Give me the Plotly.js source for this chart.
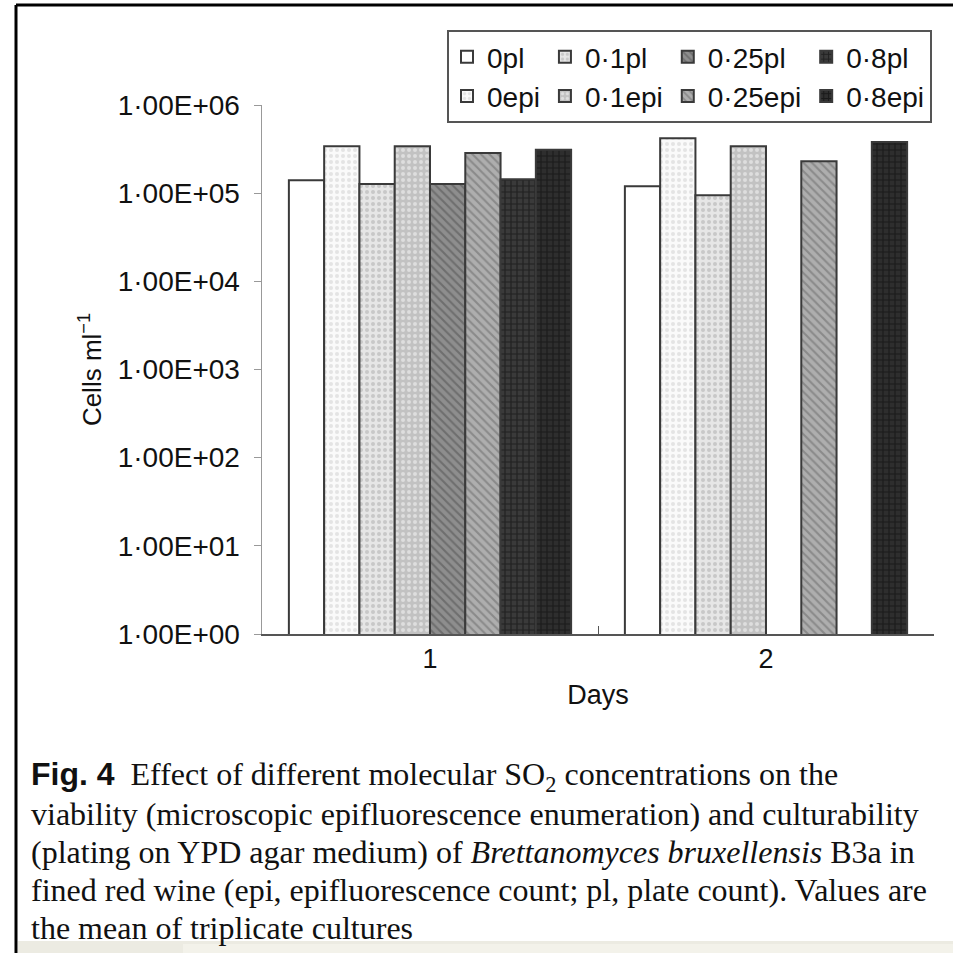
<!DOCTYPE html>
<html>
<head>
<meta charset="utf-8">
<script src="https://cdn.plot.ly/plotly-3.0.1.min.js"></script>
<style>html,body{margin:0;padding:0;background:#fff;}#chart{width:953px;height:953px;}</style>
</head>
<body>
<div id="chart"></div>
<script>
// ---- data ----
var days = ['1', '2'];
var seriesNames = ['0pl', '0epi', '0·1pl', '0·1epi', '0·25pl', '0·25epi', '0·8pl', '0·8epi'];
var v0pl    = [1.40e5, 1.20e5];
var v0epi   = [3.40e5, 4.20e5];
var v01pl   = [1.27e5, 0.95e5];
var v01epi  = [3.40e5, 3.40e5];
var v025pl  = [1.27e5, null];
var v025epi = [2.85e5, 2.30e5];
var v08pl   = [1.44e5, null];
var v08epi  = [3.10e5, 3.80e5];
var yTickVals = [1, 10, 100, 1000, 10000, 100000, 1000000];
var yTickText = ['1·00E+00', '1·00E+01', '1·00E+02', '1·00E+03', '1·00E+04', '1·00E+05', '1·00E+06'];
var groups = ['g0', 'g0', 'g01', 'g01', 'g025', 'g025', 'g08', 'g08'];

// ---- styles ----
var values = [v0pl, v0epi, v01pl, v01epi, v025pl, v025epi, v08pl, v08epi];
var styles = [
  {bg: '#ffffff', fg: '#ffffff', shape: ''},
  {bg: '#fafafa', fg: '#e4e4e4', shape: '.'},
  {bg: '#e6e6e6', fg: '#c8c8c8', shape: '.'},
  {bg: '#c2c2c2', fg: '#dedede', shape: '.'},
  {bg: '#8e8e8e', fg: '#6e6e6e', shape: '\\'},
  {bg: '#aeaeae', fg: '#8a8a8a', shape: '\\'},
  {bg: '#3a3a3a', fg: '#202020', shape: '+'},
  {bg: '#2e2e2e', fg: '#1a1a1a', shape: '+'}
];

var traces = seriesNames.map(function (nm, i) {
  return {
    type: 'bar',
    name: nm,
    x: days,
    y: values[i],
    legendgroup: groups[i],
    marker: {
      color: styles[i].bg,
      line: {color: '#3a3a3a', width: 2},
      pattern: {shape: styles[i].shape, bgcolor: styles[i].bg, fgcolor: styles[i].fg, size: 6, solidity: 0.35, fillmode: 'replace'}
    },
    hoverinfo: 'skip'
  };
});

// plot area: x 262..934, y 105..634
var L = 262, R = 934, T = 105, B = 634;
function px(x) { return (x - L) / (R - L); }
function py(y) { return (B - y) / (B - T); }

var capFont = {family: 'Liberation Serif, Times New Roman, serif', size: 32, color: '#111'};
var capLines = [
  '<b><span style="font-family:\'Liberation Sans\',Arial,sans-serif">Fig. 4</span></b>  Effect of different molecular SO<sub>2</sub> concentrations on the',
  'viability (microscopic epifluorescence enumeration) and culturability',
  '(plating on YPD agar medium) of <i>Brettanomyces bruxellensis</i> B3a in',
  'fined red wine (epi, epifluorescence count; pl, plate count). Values are',
  'the mean of triplicate cultures'
];
var baselines = [786, 824, 862, 900, 938];
var annotations = capLines.map(function (t, i) {
  return {
    xref: 'paper', yref: 'paper', x: px(29), y: py(baselines[i] - 10),
    xanchor: 'left', yanchor: 'middle', showarrow: false, align: 'left',
    text: t, font: capFont
  };
});

var shapes = [
  // page frame
  {type: 'line', xref: 'paper', yref: 'paper', x0: px(16), x1: px(953), y0: py(5), y1: py(5), line: {color: '#000', width: 3}},
  {type: 'line', xref: 'paper', yref: 'paper', x0: px(16), x1: px(16), y0: py(5), y1: py(953), line: {color: '#000', width: 3}},
  // bottom strip
  {type: 'rect', xref: 'paper', yref: 'paper', x0: px(18), x1: px(953), y0: py(941), y1: py(953), fillcolor: '#ecebe2', line: {width: 0}},
  {type: 'rect', xref: 'paper', yref: 'paper', x0: px(183), x1: px(953), y0: py(944), y1: py(953), fillcolor: '#f3f2ea', line: {width: 0}}
];

var layout = {
  width: 953, height: 953,
  margin: {l: L, r: 953 - R, t: T, b: 953 - B, pad: 0},
  paper_bgcolor: '#fff', plot_bgcolor: '#fff',
  font: {family: 'Liberation Sans, Arial, sans-serif', size: 26, color: '#111'},
  barmode: 'group', bargap: 0.16, bargroupgap: 0,
  showlegend: true,
  legend: {
    orientation: 'h', traceorder: 'grouped',
    x: px(447), y: py(30), xanchor: 'left', yanchor: 'top',
    bgcolor: '#fff', bordercolor: '#555', borderwidth: 2,
    font: {family: 'Liberation Sans, Arial, sans-serif', size: 28, color: '#111'},
    tracegroupgap: 0, itemwidth: 30
  },
  xaxis: {
    type: 'category', range: [-0.5, 1.5],
    showline: true, linecolor: '#555', linewidth: 2,
    ticks: 'inside', tickson: 'boundaries', ticklen: 8, tickcolor: '#555', tickwidth: 1,
    showgrid: false, zeroline: false,
    tickfont: {size: 27, color: '#111'},
    title: {text: 'Days', font: {size: 27, color: '#111'}, standoff: 12}
  },
  yaxis: {
    type: 'log', range: [0, 6],
    tickvals: yTickVals, ticktext: yTickText,
    showline: true, linecolor: '#999', linewidth: 1.5,
    ticks: 'outside', ticklen: 7, tickcolor: '#999', tickwidth: 1,
    ticklabelstandoff: 8,
    showgrid: false, zeroline: false,
    tickfont: {size: 28, color: '#111'},
    title: {text: 'Cells ml<sup>−1</sup>', font: {size: 26, color: '#111'}, standoff: 8}
  },
  annotations: annotations,
  shapes: shapes
};

Plotly.newPlot('chart', traces, layout, {displayModeBar: false, staticPlot: true});
</script>
</body>
</html>
